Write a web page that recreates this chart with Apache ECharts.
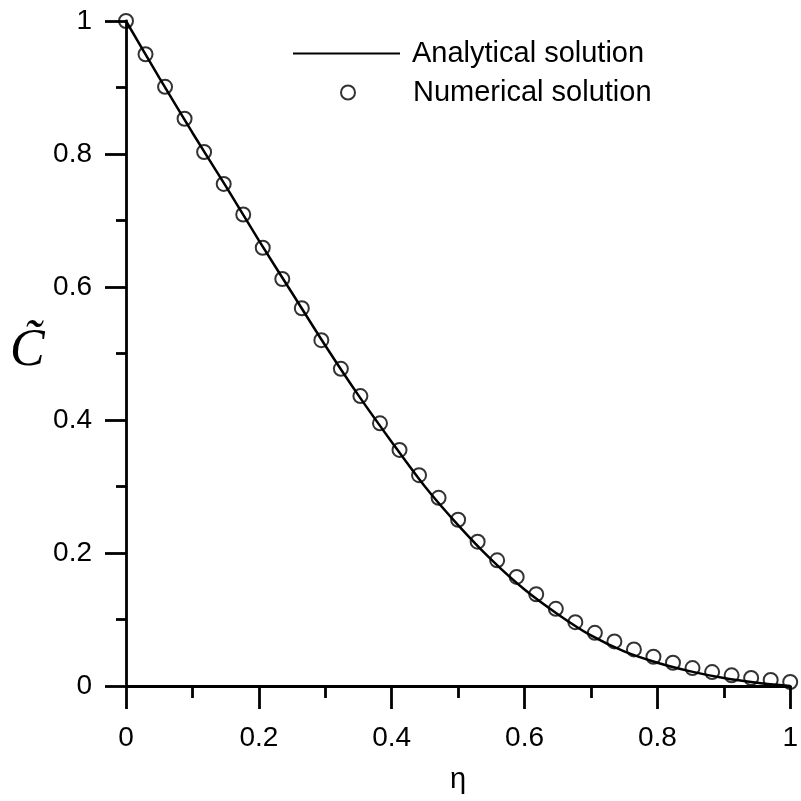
<!DOCTYPE html>
<html>
<head>
<meta charset="utf-8">
<script src="https://cdn.jsdelivr.net/npm/echarts@6/dist/echarts.min.js"></script>
<style>
  html, body { margin: 0; padding: 0; background: #fff; }
  #chart { width: 801px; height: 801px; }
</style>
</head>
<body>
<div id="chart"></div>
<script>
// Analytical profile, sampled along eta
const analyticalEta = [0, 0.05, 0.1, 0.15, 0.2, 0.25, 0.3, 0.35, 0.4, 0.45, 0.5,
  0.55, 0.6, 0.65, 0.7, 0.75, 0.8, 0.85, 0.9, 0.95, 1.0];
const analyticalC = [1.0, 0.915, 0.832, 0.752, 0.670, 0.591, 0.512, 0.437, 0.367, 0.300, 0.242,
  0.190, 0.145, 0.108, 0.076, 0.052, 0.035, 0.022, 0.012, 0.005, 0.0];

// Numerical solution on 35 nodes (eta = k/34)
const numericalEta = [0, 0.0294, 0.0588, 0.0882, 0.1176, 0.1471, 0.1765, 0.2059, 0.2353, 0.2647,
  0.2941, 0.3235, 0.3529, 0.3824, 0.4118, 0.4412, 0.4706, 0.5, 0.5294, 0.5588,
  0.5882, 0.6176, 0.6471, 0.6765, 0.7059, 0.7353, 0.7647, 0.7941, 0.8235, 0.8529,
  0.8824, 0.9118, 0.9412, 0.9706, 1.0];
const numericalC = [1.0, 0.950, 0.901, 0.853, 0.803, 0.755, 0.709, 0.659, 0.612, 0.568,
  0.520, 0.477, 0.436, 0.395, 0.355, 0.317, 0.283, 0.250, 0.217, 0.189,
  0.164, 0.138, 0.116, 0.096, 0.080, 0.067, 0.055, 0.044, 0.035, 0.027,
  0.021, 0.016, 0.012, 0.009, 0.006];

const xTicks = ['0', '0.2', '0.4', '0.6', '0.8', '1'];
const yTicks = ['0', '0.2', '0.4', '0.6', '0.8', '1'];

const seriesNames = ['Analytical solution', 'Numerical solution'];

const pair = (xs, ys) => xs.map((x, i) => [x, ys[i]]);

const font = 'Arial, "Liberation Sans", sans-serif';
const serif = '"Liberation Serif", "Times New Roman", serif';

const chart = echarts.init(document.getElementById('chart'), null, { renderer: 'canvas' });

chart.setOption({
  animation: false,
  backgroundColor: '#fff',
  grid: { left: 126, right: 9, top: 21, bottom: 115, containLabel: false },
  xAxis: {
    type: 'value', min: 0, max: 1, interval: 0.2,
    name: 'η', nameLocation: 'middle', nameGap: 79,
    nameTextStyle: { fontFamily: font, fontSize: 29, color: '#000' },
    axisLine: { show: true, onZero: false, lineStyle: { color: '#000', width: 2.8 } },
    axisTick: { show: true, inside: false, length: 23, lineStyle: { color: '#000', width: 2.8 } },
    minorTick: { show: true, splitNumber: 2, length: 12, lineStyle: { color: '#000', width: 2.8 } },
    splitLine: { show: false },
    axisLabel: {
      margin: 38, fontFamily: font, fontSize: 28, color: '#000',
      formatter: (v) => xTicks[Math.round(v / 0.2)]
    }
  },
  yAxis: {
    type: 'value', min: 0, max: 1, interval: 0.2,
    axisLine: { show: true, onZero: false, lineStyle: { color: '#000', width: 2.8 } },
    axisTick: { show: true, inside: false, length: 21, lineStyle: { color: '#000', width: 2.8 } },
    minorTick: { show: true, splitNumber: 2, length: 10, lineStyle: { color: '#000', width: 2.8 } },
    splitLine: { show: false },
    axisLabel: {
      margin: 34, fontFamily: font, fontSize: 28, color: '#000',
      formatter: (v) => yTicks[Math.round(v / 0.2)]
    }
  },
  legend: [
    {
      data: [{ name: seriesNames[0], icon: 'rect' }],
      left: 293, top: 39, orient: 'vertical', padding: 0,
      itemWidth: 107, itemHeight: 2,
      itemStyle: { color: '#000' },
      textStyle: { fontFamily: font, fontSize: 29, color: '#000', padding: [0, 0, 0, 7] },
      selectedMode: false
    },
    {
      data: [{ name: seriesNames[1], icon: 'circle' }],
      left: 340, top: 78, orient: 'vertical', padding: 0,
      itemWidth: 14, itemHeight: 14,
      textStyle: { fontFamily: font, fontSize: 29, color: '#000', padding: [0, 0, 0, 53] },
      selectedMode: false
    }
  ],
  series: [
    {
      name: seriesNames[0], type: 'line',
      data: pair(analyticalEta, analyticalC),
      symbol: 'none', smooth: 0.3,
      lineStyle: { color: '#000', width: 2.5 },
      itemStyle: { color: '#000' },
      z: 2
    },
    {
      name: seriesNames[1], type: 'scatter',
      data: pair(numericalEta, numericalC),
      symbol: 'circle', symbolSize: 14,
      itemStyle: { color: 'rgba(255,255,255,0)', borderColor: '#000', borderWidth: 2 },
      z: 3
    }
  ],
  graphic: [
    {
      type: 'text', left: 10, top: 325,
      style: { text: 'C\u0303', font: 'italic 52px ' + serif, fill: '#000' }
    }
  ]
});
</script>
</body>
</html>
